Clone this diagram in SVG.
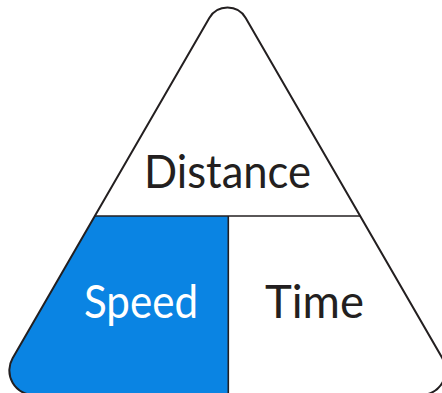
<svg xmlns="http://www.w3.org/2000/svg" width="442" height="393" viewBox="0 0 442 393">
  <style>
    .lbl { font-family: Lato, "Open Sans", sans-serif; font-size: 46px; text-anchor: middle; }
    .dark { fill: #231f20; }
    .light { fill: #ffffff; }
    .edge { fill: none; stroke: #231f20; stroke-width: 2; stroke-linejoin: round; }
    .div { stroke: #231f20; stroke-width: 1.6; fill: none; }
  </style>
  <rect width="442" height="393" fill="#ffffff"/>
  <g id="speed">
    <path d="M 94.8,216 L 228.3,216 L 228.3,395 L 33.8,395 A 24.5 24.5 0 0 1 12.6,358.3 Z" fill="#0a84e3"/>
    <text class="lbl light" x="141" y="318" textLength="114" lengthAdjust="spacingAndGlyphs">Speed</text>
  </g>
  <g id="distance">
    <text class="lbl dark" x="227.5" y="188" textLength="167" lengthAdjust="spacingAndGlyphs">Distance</text>
  </g>
  <g id="time">
    <text class="lbl dark" x="314.5" y="318" textLength="99" lengthAdjust="spacingAndGlyphs">Time</text>
  </g>
  <g id="connectors">
    <path class="edge" d="M 209.3,18 A 21 21 0 0 1 245.7,18 L 442.4,358.3 A 24.5 24.5 0 0 1 421.2,395 L 33.8,395 A 24.5 24.5 0 0 1 12.6,358.3 Z"/>
    <line class="div" x1="94.8" y1="216" x2="360.2" y2="216"/>
    <line class="div" x1="228.3" y1="216" x2="228.3" y2="395"/>
  </g>
</svg>
